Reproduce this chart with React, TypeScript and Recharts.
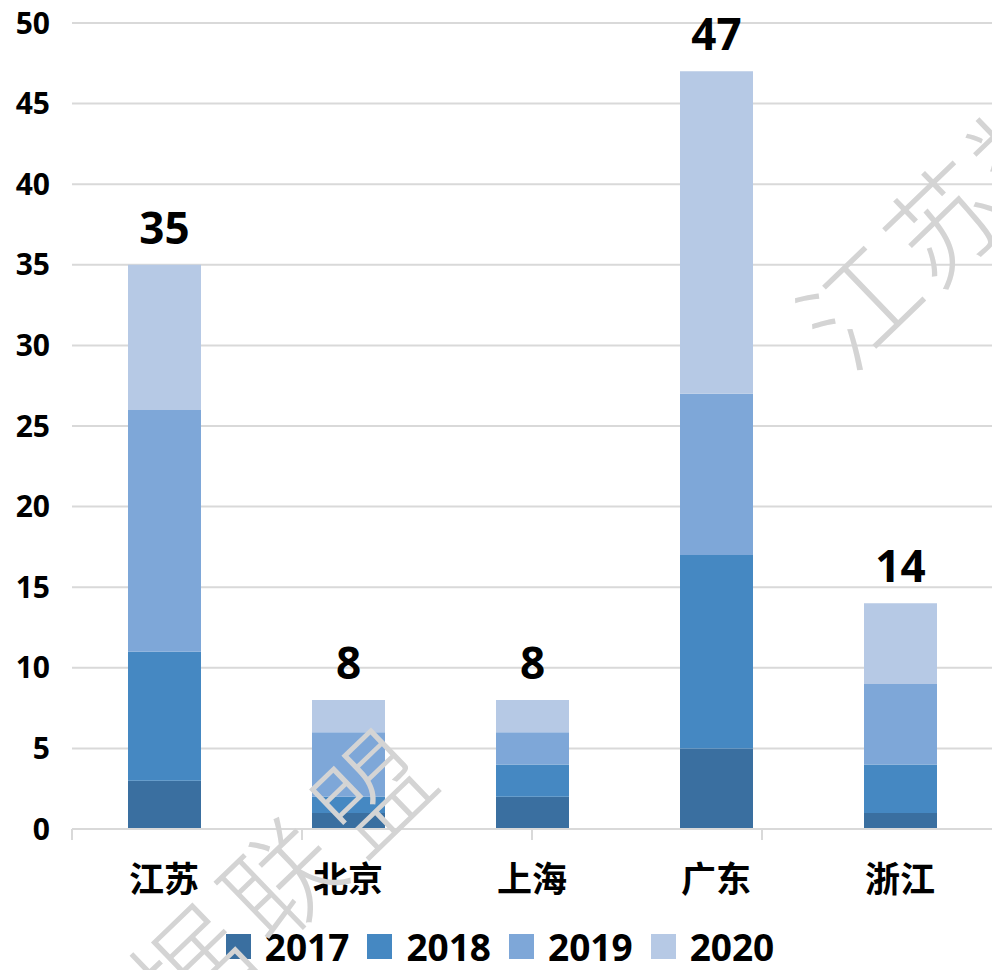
import React from 'react';
import { BarChart, Bar, XAxis, YAxis, CartesianGrid, Legend, LabelList } from 'recharts';

const categories = ['江苏', '北京', '上海', '广东', '浙江'];
const y2017 = [3, 1, 2, 5, 1];
const y2018 = [8, 1, 2, 12, 3];
const y2019 = [15, 4, 2, 10, 5];
const y2020 = [9, 2, 2, 20, 5];
const yTicks = [0, 5, 10, 15, 20, 25, 30, 35, 40, 45, 50];
const edgeTicks = [0, 1, 2, 3, 4, 5];

const series = [
    { key: 'y2017', name: '2017', color: '#3A6FA0' },
    { key: 'y2018', name: '2018', color: '#4588C2' },
    { key: 'y2019', name: '2019', color: '#7EA7D8' },
    { key: 'y2020', name: '2020', color: '#B6C9E5' },
];

const data = categories.map((name, i) => ({
    name,
    y2017: y2017[i],
    y2018: y2018[i],
    y2019: y2019[i],
    y2020: y2020[i],
    total: y2017[i] + y2018[i] + y2019[i] + y2020[i],
}));

const FONT = '"Open Sans", "Noto Sans CJK SC", sans-serif';

const CategoryTick = ({ x, y, payload }: any) => (
    <text x={x} y={y} dy={62} textAnchor="middle" fontFamily={FONT} fontSize={35} fontWeight={700} fill="#000">
        {payload.value}
    </text>
);

const EmptyTick = () => <g />;

const TotalLabel = ({ x, y, width, value }: any) => (
    <text x={x + width / 2} y={y - 21} textAnchor="middle" fontFamily={FONT} fontSize={44} fontWeight={700} fill="#000">
        {value}
    </text>
);

const LegendContent = () => (
    <div style={{ height: 40, paddingBottom: 4, display: 'flex', justifyContent: 'center', alignItems: 'center', fontFamily: FONT, paddingLeft: 8 }}>
        {series.map((s, i) => (
            <div key={s.key} style={{ display: 'flex', alignItems: 'center', marginRight: i === series.length - 1 ? 0 : 18 }}>
                <span style={{ width: 25, height: 25, background: s.color, marginRight: 14, display: 'inline-block' }} />
                <span style={{ fontSize: 37, fontWeight: 700, color: '#000', lineHeight: 1 }}>{s.name}</span>
            </div>
        ))}
    </div>
);

// watermark glyphs (decoration only)
const watermark = [
    { ch: '江', x: 855, y: 300 },
    { ch: '苏', x: 940, y: 218 },
    { ch: '数', x: 1025, y: 135 },
    { ch: '据', x: 186, y: 963 },
    { ch: '联', x: 277, y: 875 },
    { ch: '盟', x: 368, y: 787 },
];

export default function App() {
    return (
        <div style={{ position: 'absolute', left: 0, top: 0, width: 992, height: 970, background: '#fff', overflow: 'hidden' }}>
            <BarChart width={992} height={970} data={data} margin={{ top: 23, right: 0, left: 0, bottom: 0 }}>
                <CartesianGrid xAxisId="b" horizontal vertical={false} stroke="#D9D9D9" strokeWidth={2} />
                <XAxis
                    xAxisId="b"
                    dataKey="name"
                    axisLine={false}
                    tickLine={false}
                    tickSize={0}
                    tickMargin={0}
                    height={96}
                    tick={<CategoryTick />}
                />
                <XAxis
                    xAxisId="a"
                    type="number"
                    domain={[0, 5]}
                    ticks={edgeTicks}
                    tick={<EmptyTick />}
                    tickSize={11}
                    tickLine={{ stroke: '#D9D9D9', strokeWidth: 2 }}
                    axisLine={{ stroke: '#D9D9D9', strokeWidth: 2 }}
                    height={1}
                />
                <YAxis
                    domain={[0, 50]}
                    ticks={yTicks}
                    axisLine={false}
                    tickLine={false}
                    tickSize={0}
                    tickMargin={22}
                    width={72}
                    tick={{ fontFamily: FONT, fontSize: 30, fontWeight: 700, fill: '#000' }}
                />
                <Legend verticalAlign="bottom" content={<LegendContent />} />
                {series.map((s, i) => (
                    <Bar key={s.key} xAxisId="b" dataKey={s.key} name={s.name} stackId="a" fill={s.color} barSize={73} isAnimationActive={false}>
                        {i === series.length - 1 && <LabelList dataKey="total" content={<TotalLabel />} />}
                    </Bar>
                ))}
            </BarChart>
            <svg width={992} height={970} style={{ position: 'absolute', left: 0, top: 0, pointerEvents: 'none' }}>
                {watermark.map((w, i) => (
                    <text
                        key={i}
                        x={w.x}
                        y={w.y}
                        textAnchor="middle"
                        dominantBaseline="central"
                        fontFamily='"Noto Sans CJK SC", sans-serif'
                        fontWeight={200}
                        fontSize={112}
                        fill="#D4D4D4"
                        transform={`rotate(-44 ${w.x} ${w.y})`}
                    >
                        {w.ch}
                    </text>
                ))}
            </svg>
        </div>
    );
}
